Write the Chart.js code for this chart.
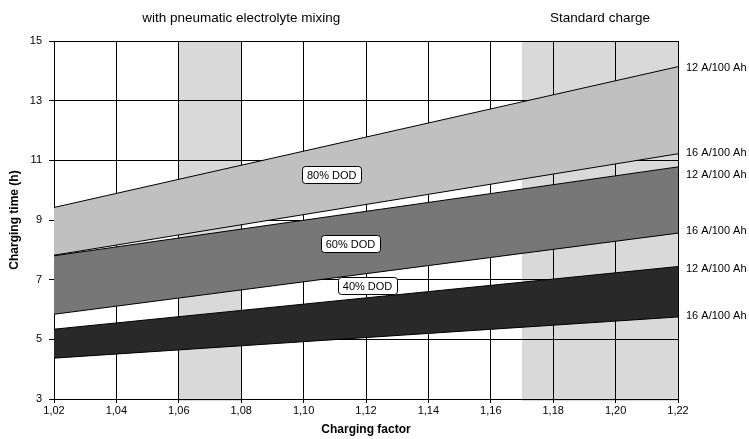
<!DOCTYPE html>
<html>
<head>
<meta charset="utf-8">
<script src="https://cdn.jsdelivr.net/npm/chart.js@4.4.0/dist/chart.umd.min.js"></script>
<style>
  html, body { margin: 0; padding: 0; background: #fff; }
</style>
</head>
<body>
<canvas id="myChart" width="749" height="439"></canvas>
<script>
// x values the lines are read at, and the axis ticks
var factors = [1.02, 1.22];
var xTicks = [1.02, 1.04, 1.06, 1.08, 1.10, 1.12, 1.14, 1.16, 1.18, 1.20, 1.22];
var yTicks = [3, 5, 7, 9, 11, 13, 15];

// charging time (h) per band, upper edge = 12 A/100 Ah, lower edge = 16 A/100 Ah
let dod80_12A = [9.42, 14.14],
  dod80_16A = [7.82, 11.22],
  dod60_12A = [7.80, 10.78],
  dod60_16A = [5.84, 8.56],
  dod40_12A = [5.34, 7.44],
  dod40_16A = [4.37, 5.75];

var bandNames = ["80% DOD", "60% DOD", "40% DOD"];
var lineNames = ["12 A/100 Ah", "16 A/100 Ah", "12 A/100 Ah", "16 A/100 Ah", "12 A/100 Ah", "16 A/100 Ah"];
var shadedRanges = [[1.06, 1.08], [1.17, 1.22]];
var captions = ["with pneumatic electrolyte mixing", "Standard charge"];

// where the text goes (data coords / pixel nudges)
var captionX = [1.08, 1.195];
var bandLabelAt = [[1.109, 10.52], [1.115, 8.2], [1.1205, 6.79]];
var lineLabelNudge = [1, -1, 8, -2, 2, -1];

var FONT = "'Liberation Sans', Arial, sans-serif";
Chart.defaults.font.family = FONT;
Chart.defaults.color = "#000";

function toPoints(arr) {
  return arr.map(function (v, i) { return { x: factors[i], y: v }; });
}

function edge(arr, fill, color) {
  return {
    data: toPoints(arr),
    borderColor: "#000",
    borderWidth: 1,
    backgroundColor: color || "transparent",
    fill: fill,
    pointRadius: 0,
    tension: 0
  };
}

var decorations = {
  id: "decorations",
  beforeDraw: function (chart) {
    var ctx = chart.ctx, area = chart.chartArea, xs = chart.scales.x;
    ctx.save();
    ctx.fillStyle = "#fff";
    ctx.fillRect(0, 0, chart.width, chart.height);
    ctx.fillStyle = "#d9d9d9";
    shadedRanges.forEach(function (r) {
      var x1 = xs.getPixelForValue(r[0]), x2 = xs.getPixelForValue(r[1]);
      ctx.fillRect(x1, area.top, x2 - x1, area.bottom - area.top + 2);
    });
    ctx.restore();
  },
  afterDraw: function (chart) {
    var ctx = chart.ctx, area = chart.chartArea, xs = chart.scales.x, ys = chart.scales.y;
    ctx.save();
    ctx.fillStyle = "#000";
    ctx.textBaseline = "middle";

    // captions above the plot
    ctx.font = "13.5px " + FONT;
    ctx.textAlign = "center";
    captions.forEach(function (t, i) {
      ctx.fillText(t, xs.getPixelForValue(captionX[i]), 18);
    });

    // current labels at the right end of each line
    ctx.font = "11px " + FONT;
    ctx.textAlign = "left";
    chart.data.datasets.forEach(function (ds, i) {
      var last = ds.data[ds.data.length - 1].y;
      ctx.fillText(lineNames[i], area.right + 8, ys.getPixelForValue(last) + lineLabelNudge[i]);
    });

    // boxed band labels
    ctx.textAlign = "center";
    bandNames.forEach(function (t, i) {
      var cx = xs.getPixelForValue(bandLabelAt[i][0]);
      var cy = ys.getPixelForValue(bandLabelAt[i][1]);
      var w = ctx.measureText(t).width + 9, h = 17;
      ctx.beginPath();
      ctx.roundRect(Math.round(cx - w / 2) + 0.5, Math.round(cy - h / 2) + 0.5, Math.round(w), h, 3);
      ctx.fillStyle = "#fff";
      ctx.fill();
      ctx.strokeStyle = "#000";
      ctx.lineWidth = 1;
      ctx.stroke();
      ctx.fillStyle = "#000";
      ctx.fillText(t, cx, cy + 1);
    });
    ctx.restore();
  }
};

var ctx = document.getElementById("myChart");
let myChart = new Chart(ctx, {
  type: "line",
  data: {
    datasets: [
      edge(dod80_12A, "+1", "#c0c0c0"),
      edge(dod80_16A, false),
      edge(dod60_12A, "+1", "#777777"),
      edge(dod60_16A, false),
      edge(dod40_12A, "+1", "#292929"),
      edge(dod40_16A, false)
    ]
  },
  options: {
    responsive: false,
    animation: false,
    layout: { padding: { left: 0, right: 71, top: 41, bottom: 0 } },
    plugins: {
      legend: { display: false },
      tooltip: { enabled: false },
      filler: { drawTime: "beforeDatasetsDraw" }
    },
    scales: {
      x: {
        type: "linear",
        min: 1.02,
        max: 1.22,
        z: 1,
        afterBuildTicks: function (scale) {
          scale.ticks = xTicks.map(function (v) { return { value: v }; });
        },
        afterFit: function (scale) { scale.height = 40; },
        ticks: {
          font: { size: 11 },
          padding: 1,
          maxRotation: 0,
          callback: function (value) { return value.toFixed(2).replace(".", ","); }
        },
        grid: { color: "#000", lineWidth: 1, tickLength: 4 },
        border: { color: "#000", width: 1 },
        title: {
          display: true,
          text: "Charging factor",
          font: { size: 12, weight: "bold" },
          padding: { top: 0, bottom: 2 }
        }
      },
      y: {
        min: 3,
        max: 15,
        z: 1,
        afterBuildTicks: function (scale) {
          scale.ticks = yTicks.map(function (v) { return { value: v }; });
        },
        afterFit: function (scale) { scale.width = 54; },
        ticks: { font: { size: 11 }, padding: 7 },
        grid: { color: "#000", lineWidth: 1, tickLength: 5 },
        border: { color: "#000", width: 1 },
        title: {
          display: true,
          text: "Charging time (h)",
          font: { size: 12, weight: "bold" },
          padding: { top: 7, bottom: 0 }
        }
      }
    }
  },
  plugins: [decorations]
});
</script>
</body>
</html>
